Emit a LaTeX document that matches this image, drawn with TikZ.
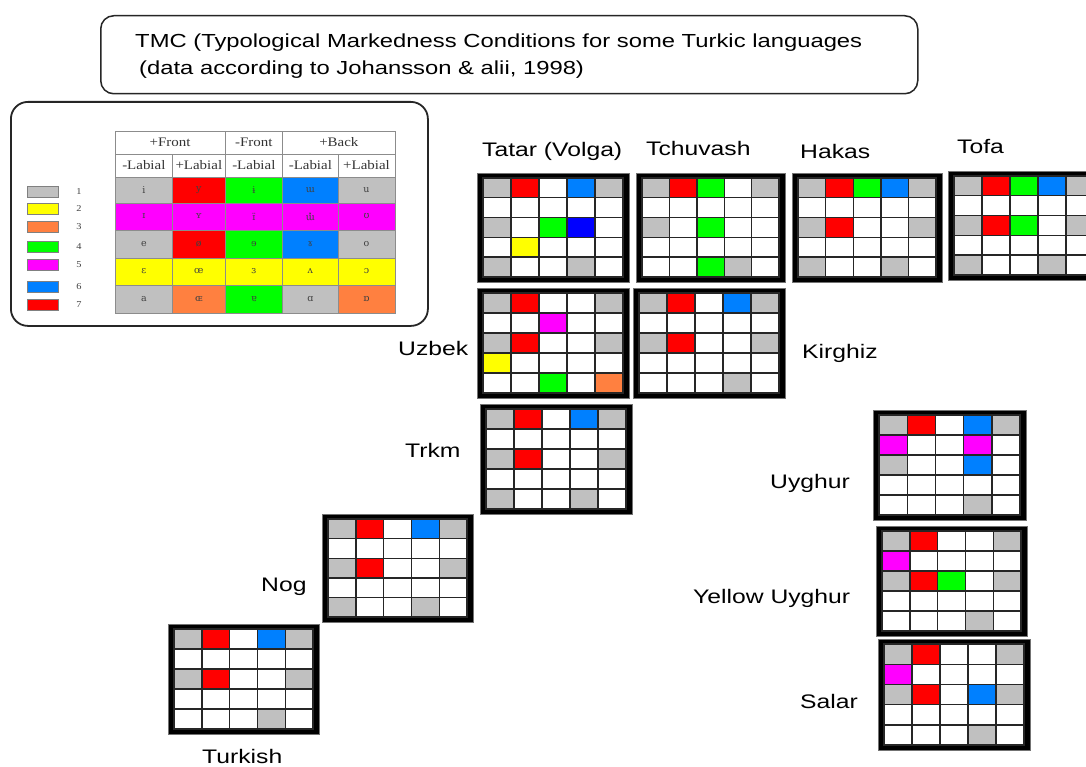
\documentclass[tikz,border=0pt]{standalone}
\usepackage{fontspec}
\setmainfont{Liberation Sans}
\newfontfamily\lblfont[FakeStretch=1.26]{Liberation Sans}
\newfontfamily\hdfont[FakeStretch=1.15]{Liberation Serif}
\newfontfamily\ipafont{DejaVu Serif}
\usetikzlibrary{calc}

% vowel-class colours
\definecolor{cG}{RGB}{192,192,192}
\definecolor{cR}{RGB}{255,0,0}
\definecolor{cN}{RGB}{0,255,0}
\definecolor{cB}{RGB}{0,128,255}
\definecolor{cD}{RGB}{0,0,255}
\definecolor{cY}{RGB}{255,255,0}
\definecolor{cM}{RGB}{255,0,255}
\definecolor{cO}{RGB}{255,128,64}
\definecolor{cW}{RGB}{255,255,255}

\tikzset{
  frame/.style={fill=black, draw=black!55, line width=0.8pt, inner sep=0pt, outer sep=0pt, anchor=north west},
  cell/.style={draw=black!85, line width=1.4pt},
  lang/.style={font=\lblfont\fontsize{19.6}{22}\selectfont, anchor=base west, inner sep=0pt},
  ttl/.style={font=\lblfont\fontsize{18.9}{22}\selectfont, anchor=base west, inner sep=0pt},
  roundbox/.style={draw=black!85, line width=1.5pt, anchor=north west, inner sep=0pt},
  tcell/.style={draw=black!45, line width=0.9pt, inner sep=0pt, outer sep=0pt, anchor=north west},
  hd/.style={font=\hdfont\fontsize{13}{15}\selectfont, text=black!80},
  ipa/.style={font=\ipafont\fontsize{9.5}{10}\selectfont, text=black!75},
  swatch/.style={draw=black!50, line width=1pt, minimum width=31pt, minimum height=11pt, inner sep=0pt},
  num/.style={font=\hdfont\fontsize{9}{10}\selectfont, text=black!75, inner sep=0pt},
}

% 5x5 vowel grid: name, x, y, width, height, 25 colour codes
\newcommand\tgrid[6]{%
  \node[frame, minimum width=#4pt, minimum height=#5pt] (#1) at (#2,#3) {};
  \foreach \c [count=\k from 0] in {#6} {
    \pgfmathsetmacro\cx{#2+6+mod(\k,5)*(#4-12)/5}
    \pgfmathsetmacro\cy{#3+5+div(\k,5)*(#5-10)/5}
    \pgfmathsetmacro\cw{(#4-12)/5}
    \pgfmathsetmacro\ch{(#5-10)/5}
    \fill[fill=c\c, cell] (\cx,\cy) rectangle ++(\cw,\ch);
  }
}

\begin{document}
\begin{tikzpicture}[x=1pt,y=-1pt]
\useasboundingbox (0,0) rectangle (1086,767);
\clip (0,0) rectangle (1086,767);
\fill[white] (0,0) rectangle (1086,767);

% title
\node[roundbox, rounded corners=13pt, minimum width=817pt, minimum height=78pt] (titlebox) at (100,15) {};
\node[ttl] (title1) at (135,48) {TMC (Typological Markedness Conditions for some Turkic languages};
\node[ttl] (title2) at (139,75) {(data according to Johansson \& alii, 1998)};

% legend
\node[roundbox, rounded corners=17pt, line width=1.8pt, minimum width=417pt, minimum height=224pt] (legend) at (10,101) {};

% legend table: header rows
\node[tcell, minimum width=110pt, minimum height=23pt, hd] (h-pf) at (115,131) {+Front};
\node[tcell, minimum width=57.7pt, minimum height=23pt, hd] (h-mf) at (225,131) {-Front};
\node[tcell, minimum width=112.3pt, minimum height=23pt, hd] (h-pb) at (282.7,131) {+Back};
\foreach \x/\w/\t [count=\j] in {115/57.7/-Labial, 172.7/52.3/+Labial, 225/57.7/-Labial, 282.7/55.3/-Labial, 338/57/+Labial}
  \node[tcell, minimum width=\w pt, minimum height=23pt, hd] (h-l\j) at (\x,154) {\t};

% legend table: vowel cells
\foreach \y/\h/\r [count=\i] in {
    177/26/{cG/i,cR/y,cN/ɨ,cB/ɯ,cG/u},
    203/27/{cM/ɪ,cM/ʏ,cM/ɪ̈,cM/ɯ̽,cM/ʊ},
    230/28/{cG/e,cR/ø,cN/ɘ,cB/ɤ,cG/o},
    258/27/{cY/ɛ,cY/œ,cY/ɜ,cY/ʌ,cY/ɔ},
    285/28/{cG/a,cO/ɶ,cN/ɐ,cG/ɑ,cO/ɒ}} {
  \foreach \cl/\s [count=\j] in \r {
    \pgfmathsetmacro\vx{{115,172.7,225,282.7,338}[\j-1]}
    \pgfmathsetmacro\vw{{57.7,52.3,57.7,55.3,57}[\j-1]}
    \node[tcell, fill=\cl, minimum width=\vw pt, minimum height=\h pt, ipa] (v-\i-\j) at (\vx,\y) {\s};
  }
}

% legend swatches and class numbers
\foreach \y/\cl [count=\i] in {192/cG,209/cY,227/cO,247/cN,265/cM,287/cB,305/cR} {
  \node[swatch, fill=\cl] (sw\i) at (42.5,\y) {};
  \node[num] (n\i) at (79,\y) {\i};
}

% language grids
\tgrid{tatar}{477}{173}{152}{109}{G,R,W,B,G, W,W,W,W,W, G,W,N,D,W, W,Y,W,W,W, G,W,W,G,W}
\tgrid{tchuvash}{636}{173}{149}{109}{G,R,N,W,G, W,W,W,W,W, G,W,N,W,W, W,W,W,W,W, W,W,N,G,W}
\tgrid{hakas}{792}{173}{150}{109}{G,R,N,B,G, W,W,W,W,W, G,R,W,W,G, W,W,W,W,W, G,W,W,G,W}
\tgrid{tofa}{948}{171}{152}{109}{G,R,N,B,G, W,W,W,W,W, G,R,N,W,G, W,W,W,W,W, G,W,W,G,W}
\tgrid{uzbek}{477}{288}{152}{110}{G,R,W,W,G, W,W,M,W,W, G,R,W,W,G, Y,W,W,W,W, W,W,N,W,O}
\tgrid{kirghiz}{633}{288}{152}{110}{G,R,W,B,G, W,W,W,W,W, G,R,W,W,G, W,W,W,W,W, W,W,W,G,W}
\tgrid{trkm}{480}{404}{152}{110}{G,R,W,B,G, W,W,W,W,W, G,R,W,W,G, W,W,W,W,W, G,W,W,G,W}
\tgrid{nog}{322}{514}{151}{108}{G,R,W,B,G, W,W,W,W,W, G,R,W,W,G, W,W,W,W,W, G,W,W,G,W}
\tgrid{turkish}{168}{624}{151}{110}{G,R,W,B,G, W,W,W,W,W, G,R,W,W,G, W,W,W,W,W, W,W,W,G,W}
\tgrid{uyghur}{873}{410}{153}{110}{G,R,W,B,G, M,W,W,M,W, G,W,W,B,W, W,W,W,W,W, W,W,W,G,W}
\tgrid{yuyghur}{876}{526}{151}{110}{G,R,W,W,G, M,W,W,W,W, G,R,N,W,G, W,W,W,W,W, W,W,W,G,W}
\tgrid{salar}{878}{639}{152}{111}{G,R,W,W,G, M,W,W,W,W, G,R,W,B,G, W,W,W,W,W, W,W,W,G,W}

% language names
\node[lang] (l-tatar) at (482,157) {Tatar (Volga)};
\node[lang] (l-tchuvash) at (646,156) {Tchuvash};
\node[lang] (l-hakas) at (800,159) {Hakas};
\node[lang] (l-tofa) at (957,154) {Tofa};
\node[lang] (l-uzbek) at (398,355) {Uzbek};
\node[lang] (l-kirghiz) at (802,358) {Kirghiz};
\node[lang] (l-trkm) at (405,457) {Trkm};
\node[lang] (l-uyghur) at (770,488) {Uyghur};
\node[lang] (l-yuyghur) at (693,603) {Yellow Uyghur};
\node[lang] (l-salar) at (800,708) {Salar};
\node[lang] (l-nog) at (261,591) {Nog};
\node[lang] (l-turkish) at (202,763) {Turkish};
\end{tikzpicture}
\end{document}
